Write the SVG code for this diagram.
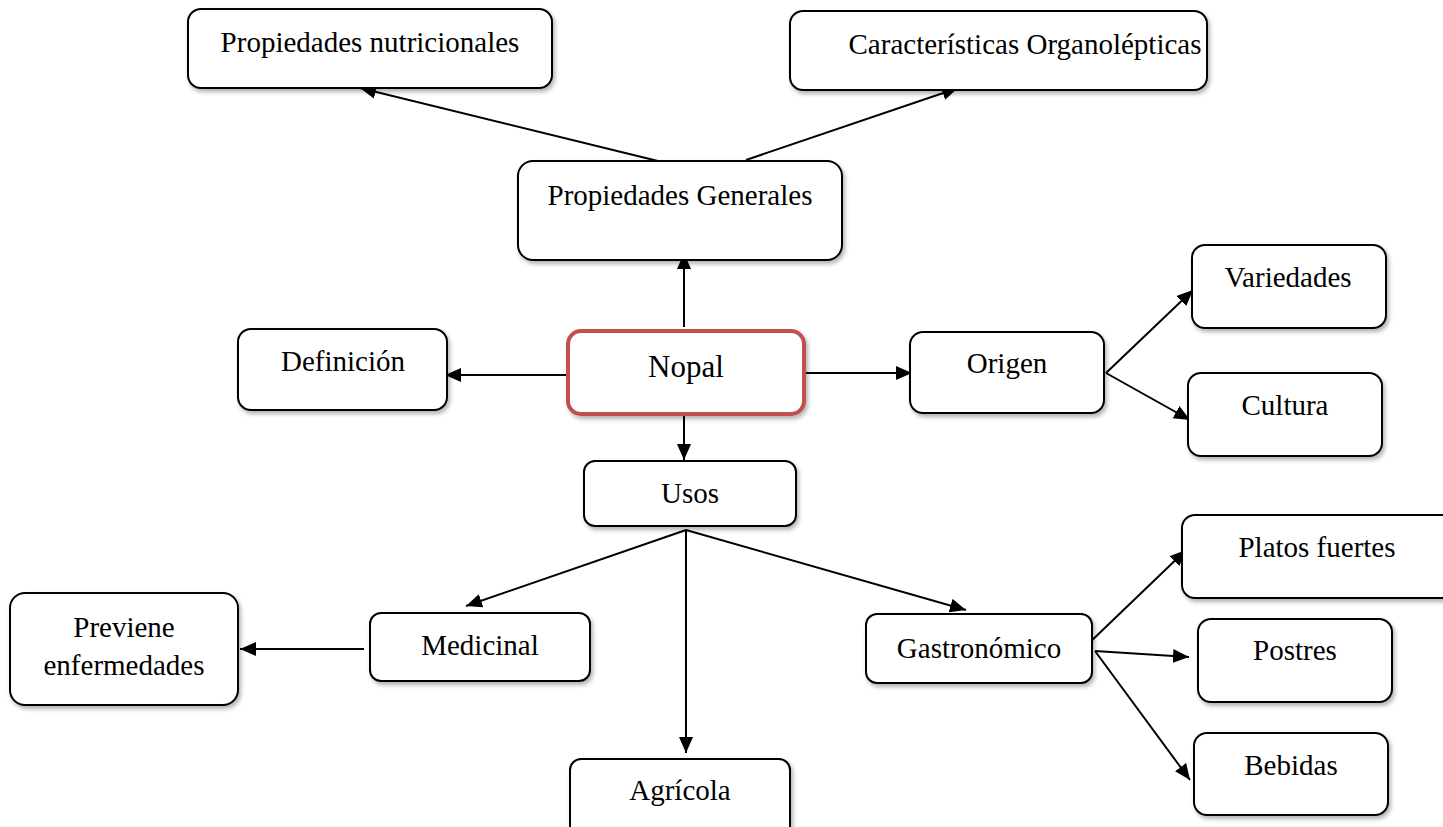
<svg xmlns="http://www.w3.org/2000/svg" width="1443" height="827" viewBox="0 0 1443 827">
<defs>
<filter id="sh" x="-10%" y="-10%" width="125%" height="135%">
<feDropShadow dx="2" dy="3" stdDeviation="2" flood-color="#000" flood-opacity="0.3"/>
</filter>
<marker id="ar" markerUnits="userSpaceOnUse" markerWidth="17" markerHeight="15" refX="16" refY="7" orient="auto">
<path d="M0,0 L16,7 L0,14 z" fill="#000"/>
</marker>
<style>
.box{fill:#fff;stroke:#000;stroke-width:2;filter:url(#sh)}
.main{fill:#fff;stroke:#C0504D;stroke-width:4;filter:url(#sh)}
text{font-family:"Liberation Serif","Times New Roman",serif;font-size:29px;fill:#000;text-anchor:middle}
.big{font-size:31px}
.ln{stroke:#000;stroke-width:2;fill:none;marker-end:url(#ar)}
</style>
</defs>
<rect width="1443" height="827" fill="#fff"/>
<g id="connectors">
<line class="ln" x1="662" y1="162" x2="360" y2="88"/>
<line class="ln" x1="746" y1="160" x2="958" y2="88"/>
<line class="ln" x1="684" y1="327" x2="684" y2="253"/>
<line class="ln" x1="567" y1="375" x2="445" y2="375"/>
<line class="ln" x1="800" y1="373" x2="912" y2="373"/>
<line class="ln" x1="684" y1="415" x2="684" y2="460"/>
<line class="ln" x1="1106" y1="373" x2="1193" y2="290"/>
<line class="ln" x1="1106" y1="373" x2="1190" y2="420"/>
<line class="ln" x1="686" y1="530" x2="466" y2="606"/>
<line class="ln" x1="686" y1="530" x2="686" y2="753"/>
<line class="ln" x1="686" y1="530" x2="966" y2="610"/>
<line class="ln" x1="364" y1="649" x2="240" y2="649"/>
<line class="ln" x1="1086" y1="646" x2="1186" y2="550"/>
<line class="ln" x1="1095" y1="651" x2="1189" y2="657"/>
<line class="ln" x1="1095" y1="651" x2="1190" y2="780"/>
</g>
<g id="n-prop-nutricionales"><rect class="box" x="188" y="9" width="364" height="79" rx="13"/><text x="370" y="52">Propiedades nutricionales</text></g>
<g id="n-caracteristicas"><rect class="box" x="790" y="11" width="417" height="79" rx="13"/><text x="1025" y="54">Características Organolépticas</text></g>
<g id="n-prop-generales"><rect class="box" x="518" y="161" width="324" height="99" rx="15"/><text x="680" y="205">Propiedades Generales</text></g>
<g id="n-definicion"><rect class="box" x="238" y="329" width="209" height="81" rx="13"/><text x="343" y="371">Definición</text></g>
<g id="n-nopal"><rect class="main" x="568" y="331" width="236" height="83" rx="13"/><text class="big" x="686" y="377">Nopal</text></g>
<g id="n-origen"><rect class="box" x="910" y="332" width="194" height="81" rx="13"/><text x="1007" y="373">Origen</text></g>
<g id="n-variedades"><rect class="box" x="1192" y="245" width="194" height="83" rx="13"/><text x="1288" y="287">Variedades</text></g>
<g id="n-cultura"><rect class="box" x="1188" y="373" width="194" height="83" rx="13"/><text x="1285" y="415">Cultura</text></g>
<g id="n-usos"><rect class="box" x="584" y="461" width="212" height="65" rx="11"/><text x="690" y="503">Usos</text></g>
<g id="n-platos"><rect class="box" x="1182" y="515" width="275" height="83" rx="13"/><text x="1317" y="557">Platos fuertes</text></g>
<g id="n-previene"><rect class="box" x="10" y="593" width="228" height="112" rx="15"/><text x="124" y="637">Previene</text><text x="124" y="675">enfermedades</text></g>
<g id="n-medicinal"><rect class="box" x="370" y="613" width="220" height="68" rx="11"/><text x="480" y="655">Medicinal</text></g>
<g id="n-gastronomico"><rect class="box" x="866" y="614" width="226" height="69" rx="11"/><text x="979" y="658">Gastronómico</text></g>
<g id="n-postres"><rect class="box" x="1198" y="619" width="194" height="83" rx="13"/><text x="1295" y="660">Postres</text></g>
<g id="n-bebidas"><rect class="box" x="1194" y="733" width="194" height="82" rx="13"/><text x="1291" y="775">Bebidas</text></g>
<g id="n-agricola"><rect class="box" x="570" y="759" width="220" height="80" rx="11"/><text x="680" y="800">Agrícola</text></g>
</svg>
